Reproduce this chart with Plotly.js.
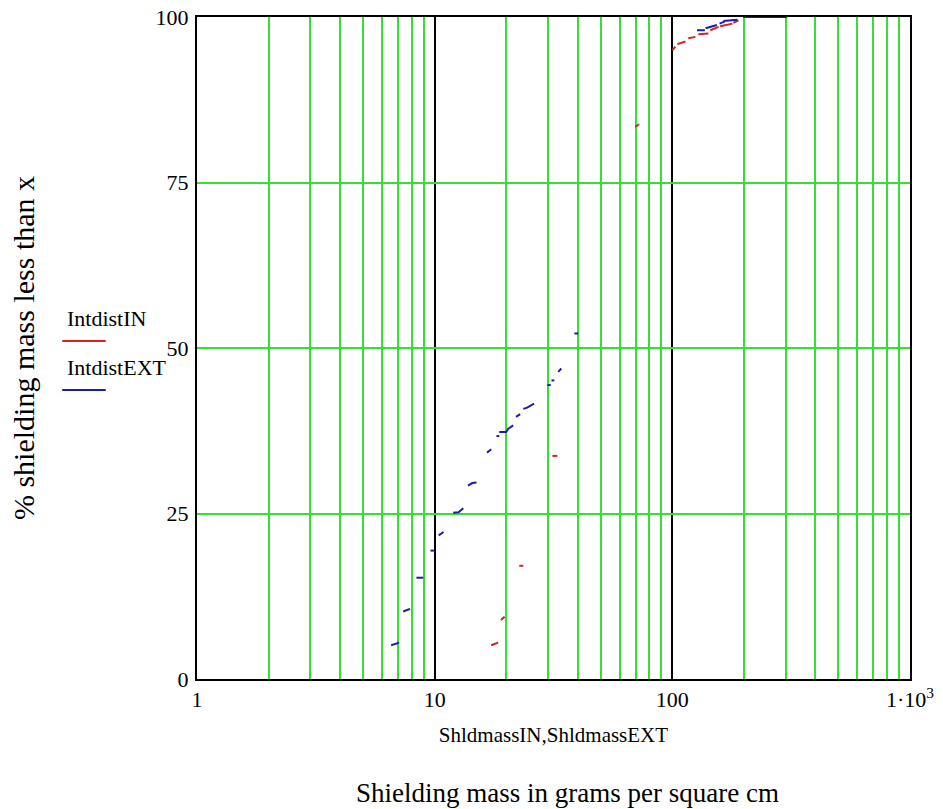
<!DOCTYPE html>
<html>
<head>
<meta charset="utf-8">
<script src="https://cdn.plot.ly/plotly-3.0.1.min.js"></script>
<style>html,body{margin:0;padding:0;background:#fff;}#chart{width:943px;height:809px;}</style>
</head>
<body>
<div id="chart"></div>
<script>
// IntdistIN (red) : segments separated by null
var inX = [17.3, 18.5, null, 19.0, 19.7, null, 22.7, 23.6, null, 31.3, 32.8, null, 69.8, 72.5, null,
           100, 103, null, 105, 113.5, null, 116.7, 125, null, 128.6, 141.8, null, 144.5, 156.4, null,
           159, 179, null, 180.6, 189.6, null, 199, 219];
var inY = [5.1, 5.5, null, 8.9, 9.4, null, 17.1, 17.1, null, 33.7, 33.7, null, 83.4, 83.8, null,
           95.0, 95.5, null, 95.9, 96.3, null, 96.8, 97.0, null, 97.4, 97.5, null, 98.0, 98.5, null,
           98.6, 99.0, null, 99.1, 99.5, null, 100, 100];
// IntdistEXT (blue)
var extX = [6.56, 7.09, null, 7.37, 7.88, null, 8.38, 8.95, null, 9.6, 10.0, null, 10.4, 10.9, null,
            11.97, 12.6, 13.2, null, 13.8, 14.4, 15.0, null, 16.6, 17.3, null, 18.2, 18.7, null,
            18.7, 20.0, 20.4, 21.4, null, 22.0, 22.9, null, 23.6, 24.5, 26.2, null,
            29.8, 30.8, null, 31.0, 31.9, null, 33.1, 34.1, null, 38.7, 40.2, null,
            127, 137, null, 138, 147, 154, null, 158, 166, null, 164, 188, null, 199, 304];
var extY = [5.1, 5.5, null, 10.2, 10.6, null, 15.3, 15.3, null, 19.4, 19.4, null, 21.7, 22.2, null,
            25.1, 25.2, 25.8, null, 29.2, 29.6, 29.7, null, 34.2, 34.7, null, 36.7, 36.7, null,
            37.3, 37.3, 37.8, 38.3, null, 39.6, 40.0, null, 40.8, 41.0, 41.6, null,
            44.4, 44.4, null, 45.1, 45.1, null, 46.4, 46.9, null, 52.2, 52.2, null,
            98.0, 98.0, null, 98.3, 98.6, 98.8, null, 99.0, 99.3, null, 99.4, 99.6, null, 100, 100];

var xTickVals = [1, 10, 100, 1000];
var xTickText = ['1', '10', '100', '1·10<sup>3</sup>'];
var xMinorVals = [2,3,4,5,6,7,8,9,20,30,40,50,60,70,80,90,200,300,400,500,600,700,800,900];
var yTickVals = [0, 25, 50, 75, 100];
var seriesNames = ['IntdistIN', 'IntdistEXT'];
var seriesColors = ['#d42020', '#1c1caa'];

var FONT = 'Times New Roman';
var GREEN = '#33e033';

var traces = [
  {x: inX, y: inY, type: 'scatter', mode: 'lines', name: seriesNames[0],
   line: {color: seriesColors[0], width: 2}, connectgaps: false, hoverinfo: 'x+y'},
  {x: extX, y: extY, type: 'scatter', mode: 'lines', name: seriesNames[1],
   line: {color: seriesColors[1], width: 2}, connectgaps: false, hoverinfo: 'x+y'}
];

var layout = {
  width: 943, height: 809,
  margin: {l: 197, r: 33, t: 17, b: 130},
  paper_bgcolor: '#fff', plot_bgcolor: '#fff',
  showlegend: false,
  font: {family: FONT, color: '#000', size: 21},
  xaxis: {
    type: 'log', range: [0, 3],
    tickmode: 'array', tickvals: xTickVals, ticktext: xTickText,
    ticks: '', showgrid: true, gridcolor: '#000', gridwidth: 2,
    showline: true, mirror: true, linecolor: '#000', linewidth: 2,
    zeroline: false, layer: 'below traces',
    tickfont: {family: FONT, size: 22, color: '#000'},
    minor: {tickmode: 'array', tickvals: xMinorVals, showgrid: true, gridcolor: GREEN, gridwidth: 2, ticks: ''},
    title: {text: 'ShldmassIN,ShldmassEXT', font: {family: FONT, size: 21, color: '#000'}, standoff: 16}
  },
  yaxis: {
    range: [0, 100],
    tickmode: 'array', tickvals: yTickVals,
    ticks: '', showgrid: true, gridcolor: GREEN, gridwidth: 2,
    showline: true, mirror: true, linecolor: '#000', linewidth: 2,
    zeroline: false, layer: 'below traces',
    tickfont: {family: FONT, size: 22, color: '#000'},
    ticklabelstandoff: 2,
    title: {text: '% shielding mass less than x', font: {family: FONT, size: 30, color: '#000'}, standoff: 112}
  },
  annotations: [
    {xref: 'paper', yref: 'paper', x: 0.52, y: -0.172, xanchor: 'center', yanchor: 'middle',
     text: 'Shielding mass in grams per square cm', showarrow: false,
     font: {family: FONT, size: 27, color: '#000'}},
    {xref: 'paper', yref: 'paper', x: -0.185, y: 0.545, xanchor: 'left', yanchor: 'middle',
     text: seriesNames[0], showarrow: false, font: {family: FONT, size: 22, color: '#000'}},
    {xref: 'paper', yref: 'paper', x: -0.185, y: 0.471, xanchor: 'left', yanchor: 'middle',
     text: seriesNames[1], showarrow: false, font: {family: FONT, size: 22, color: '#000'}}
  ],
  shapes: [
    {type: 'line', xref: 'paper', yref: 'paper', x0: -0.189, x1: -0.128, y0: 0.5106, y1: 0.5106,
     line: {color: seriesColors[0], width: 2}},
    {type: 'line', xref: 'paper', yref: 'paper', x0: -0.189, x1: -0.128, y0: 0.4366, y1: 0.4366,
     line: {color: seriesColors[1], width: 2}}
  ]
};

Plotly.newPlot('chart', traces, layout, {displayModeBar: false, staticPlot: true});
</script>
</body>
</html>
